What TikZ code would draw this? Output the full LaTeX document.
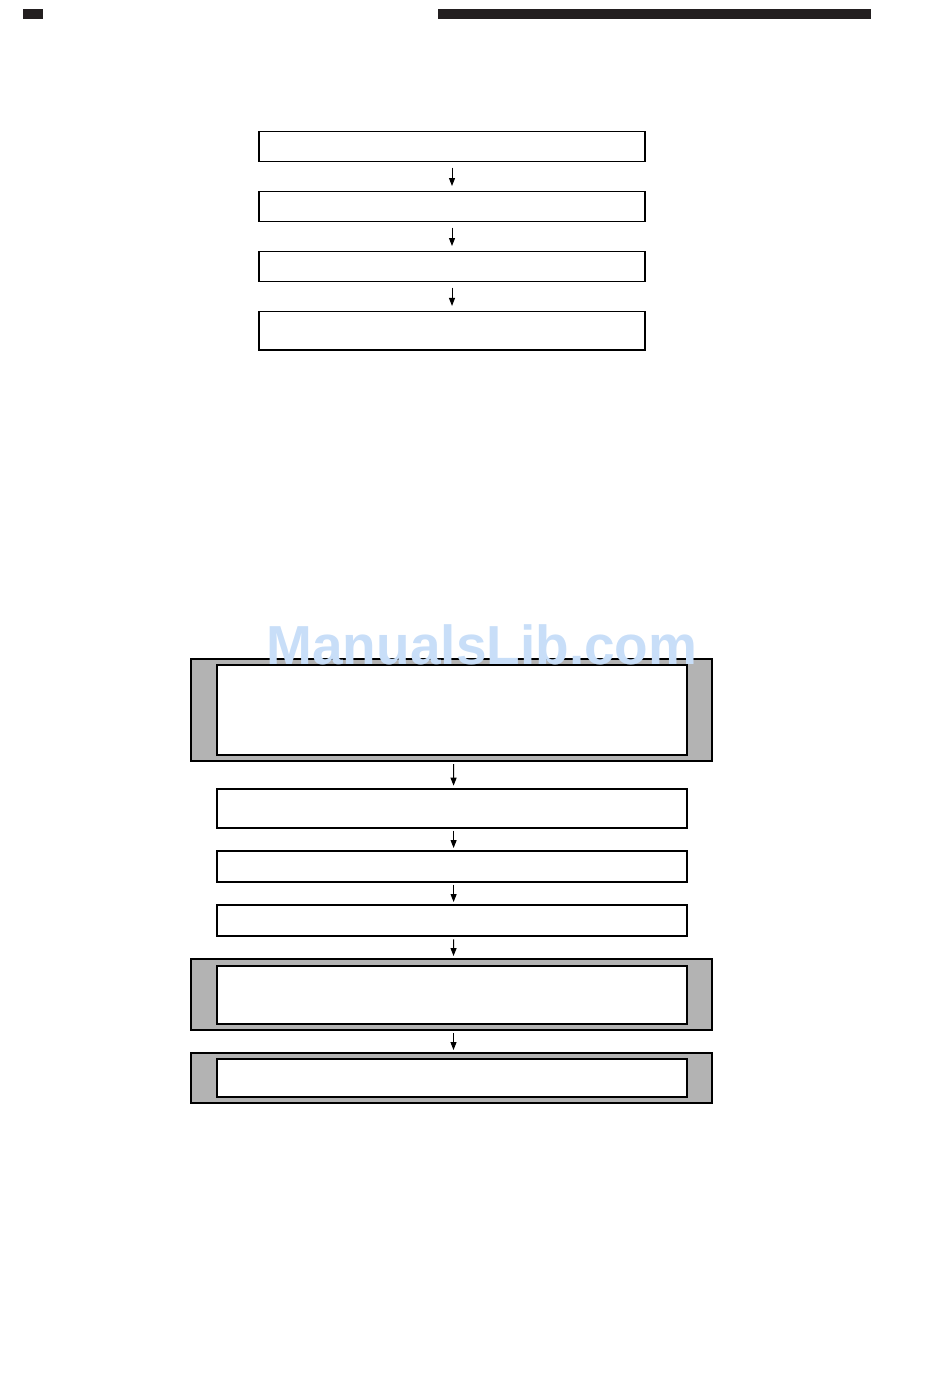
\documentclass[tikz,border=0pt]{standalone}
\usepackage{fontspec}
\newfontfamily\wmfont{Liberation Sans}
\usetikzlibrary{arrows.meta}
\definecolor{barcol}{HTML}{231F20}
\definecolor{shade}{HTML}{B3B3B3}
\definecolor{wmblue}{RGB}{200,222,248}
\begin{document}
\begin{tikzpicture}[x=1pt,y=-1pt,
  box/.style={draw=black,line width=2pt,fill=white,rectangle,inner sep=0pt,outer sep=0pt},
  topbox/.style={box,line width=1.9pt,minimum width=386pt},
  innerbox/.style={box,minimum width=469.8pt},
  grayframe/.style={box,fill=shade,minimum width=521pt},
  arr/.style={line width=1pt,-{Triangle[length=8pt,width=6pt]},shorten <=3pt,shorten >=3pt},
  toparr/.style={arr,shorten <=6pt,shorten >=5.5pt}]
\useasboundingbox (0,0) rectangle (950,1398);
% header bars
\fill[barcol] (23,8.5) rectangle (43,19);
\fill[barcol] (438,8.5) rectangle (871,19);
% top flow
\node[topbox,minimum height=30pt] (t1) at (452,146.5) {};
\node[topbox,minimum height=30pt] (t2) at (452,206.5) {};
\node[topbox,minimum height=30pt] (t3) at (452,266.5) {};
\node[topbox,minimum height=38.7pt] (t4) at (452,330.8) {};
\draw[toparr] (t1.south) -- (t2.north);
\draw[toparr] (t2.south) -- (t3.north);
\draw[toparr] (t3.south) -- (t4.north);
% bottom flow
\node[grayframe,minimum height=102.5pt] (a) at (451.5,709.75) {};
\node[innerbox,minimum height=90pt] (ai) at (451.6,709.7) {};
\node[innerbox,minimum height=39pt] (b) at (451.6,808.2) {};
\node[innerbox,minimum height=30.7pt] (c) at (451.6,866.35) {};
\node[innerbox,minimum height=31.3pt] (d) at (451.6,920.65) {};
\node[grayframe,minimum height=71.3pt] (e) at (451.5,994.65) {};
\node[innerbox,minimum height=58.6pt] (ei) at (451.6,995) {};
\node[grayframe,minimum height=49.7pt] (f) at (451.5,1077.85) {};
\node[innerbox,minimum height=37.4pt] (fi) at (451.6,1078) {};
\draw[arr] ([xshift=2pt]a.south) -- ([xshift=2pt]b.north);
\draw[arr] ([xshift=2pt]b.south) -- ([xshift=2pt]c.north);
\draw[arr] ([xshift=2pt]c.south) -- ([xshift=2pt]d.north);
\draw[arr] ([xshift=2pt]d.south) -- ([xshift=2pt]e.north);
\draw[arr] ([xshift=2pt]e.south) -- ([xshift=2pt]f.north);
% watermark
\node[anchor=base,inner sep=0pt,text=wmblue,font=\wmfont\bfseries\fontsize{55}{60}\selectfont] (wm) at (482,664) {ManualsLib.com};
\end{tikzpicture}
\end{document}
